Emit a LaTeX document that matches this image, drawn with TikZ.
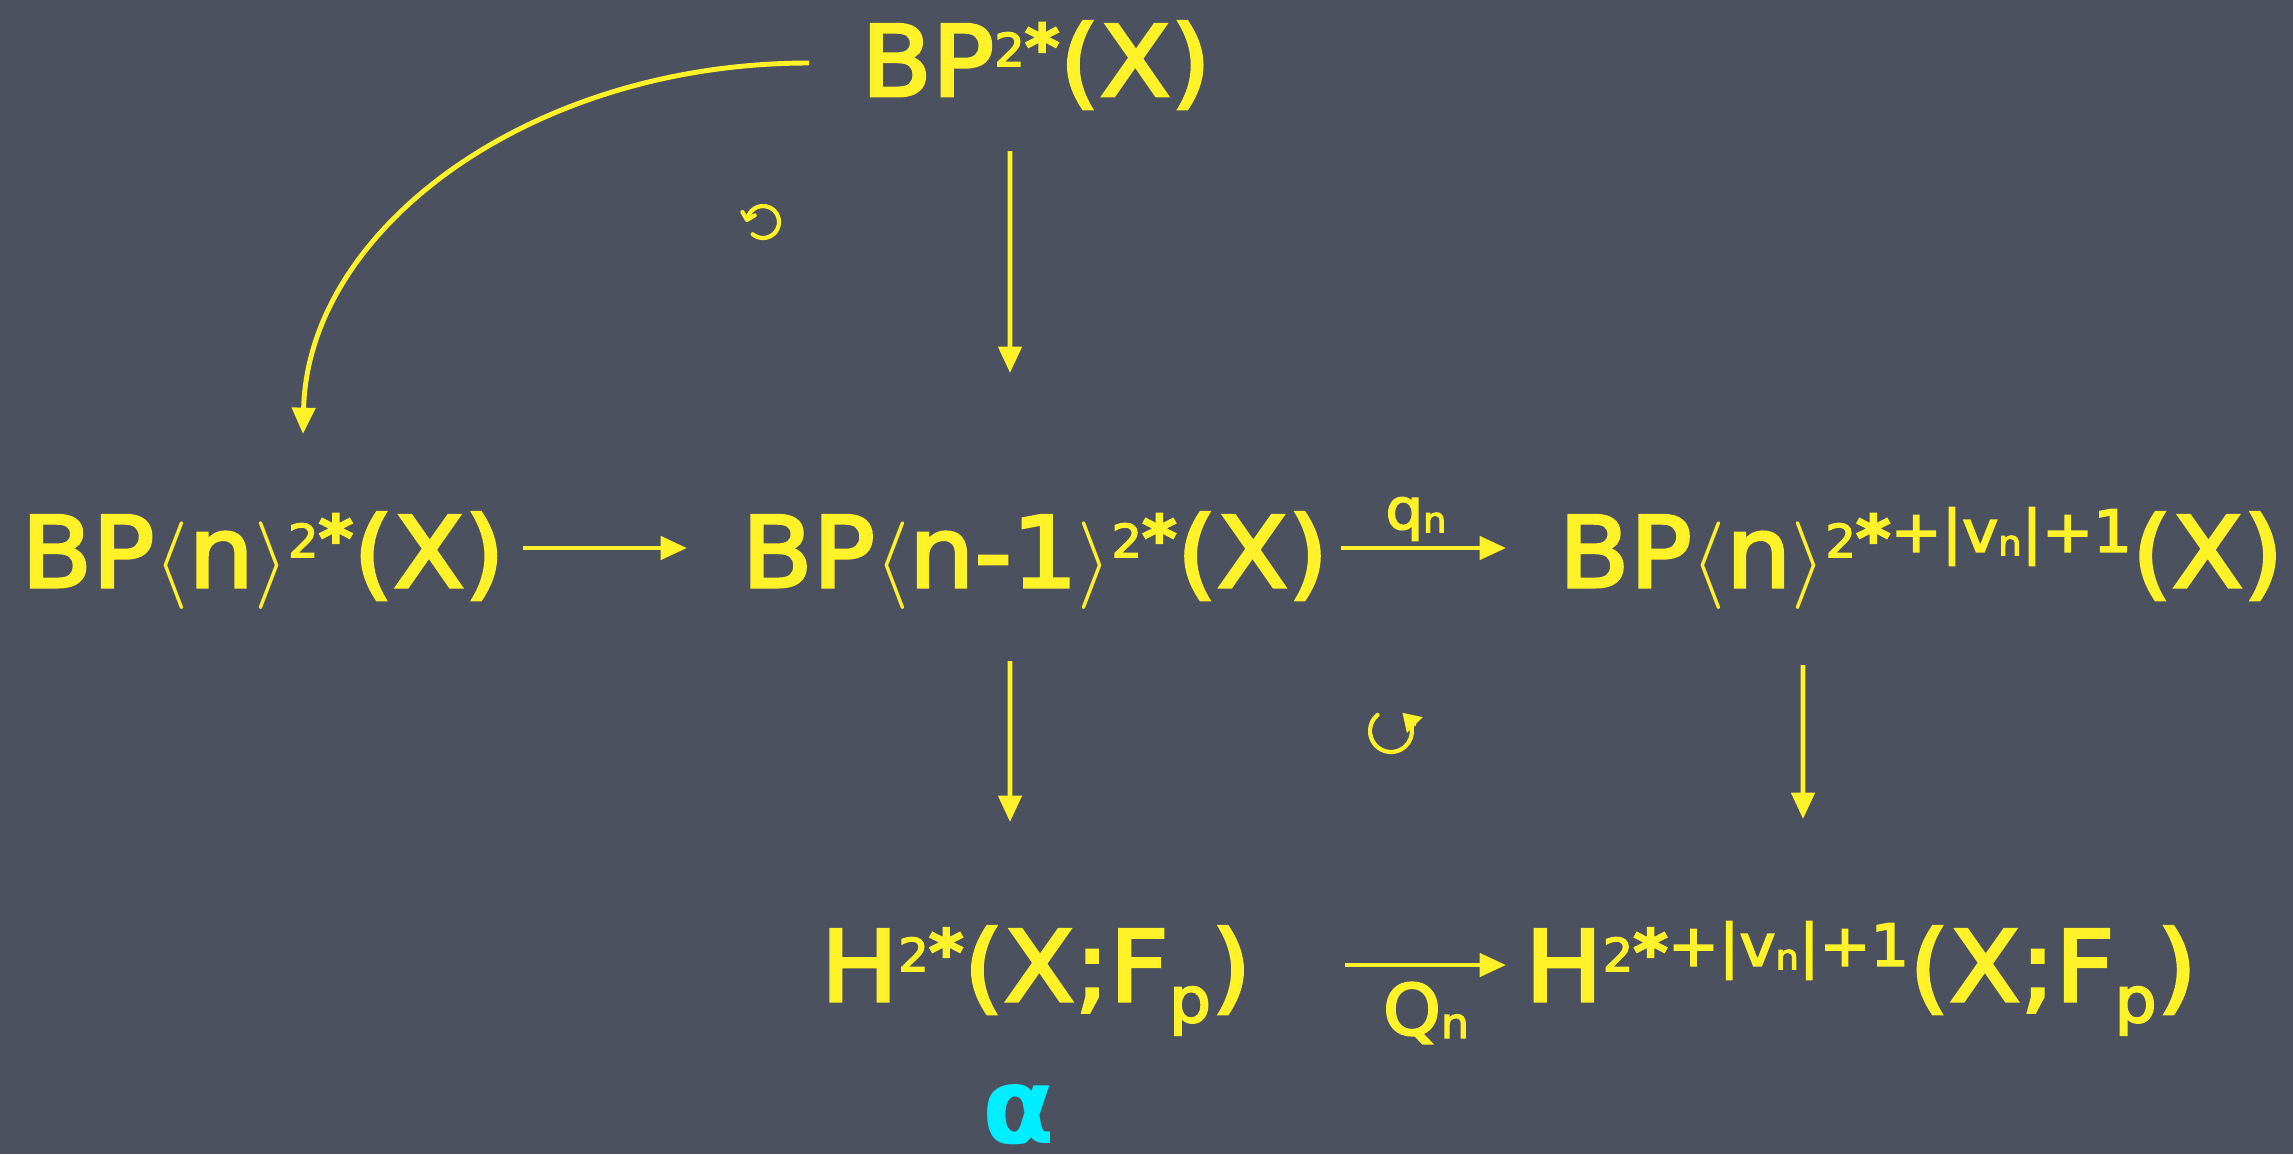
\documentclass[tikz,border=0pt]{standalone}
\usepackage{fontspec}
\setmainfont{DejaVu Sans}[FakeBold=3,FakeStretch=1.05]
\newfontfamily\alphafont{DejaVu Sans}
\usetikzlibrary{arrows.meta,calc}
\definecolor{board}{RGB}{76,81,96}
\definecolor{chalkY}{RGB}{255,242,40}
\definecolor{chalkC}{RGB}{0,238,255}
\newcommand\bigf{\fontsize{28}{30}\selectfont}
\newcommand\supA{\raisebox{8.5pt}{\fontsize{13}{14}\selectfont 2\raisebox{-1pt}{\fontsize{18}{18}\selectfont\bfseries *}}}
\newcommand\supB{\supA\raisebox{10pt}{\fontsize{16.5}{18}\selectfont +|v\raisebox{-1pt}{\fontsize{10}{10}\selectfont n}|+1}}
\newcommand\langl{$\langle$}
\newcommand\rangl{$\rangle$}
\begin{document}
\begin{tikzpicture}[
  txt/.style={text=chalkY, inner sep=0pt, font=\bigf, text height=0.72cm, text depth=0pt, anchor=center},
  lbl/.style={text=chalkY, inner sep=0pt, anchor=center},
  arr/.style={draw=chalkY, line width=1.4pt, -{Triangle[length=7.5pt,width=6.5pt]}},
  circarr/.style={draw=chalkY, line width=1.2pt, line cap=round, line join=round}
]
\fill[board] (0,0) rectangle (22.93,-11.54);
\useasboundingbox (0,0) rectangle (22.93,-11.54);

\node[txt] (top) at (10.36,-0.60) {BP\supA(X)};
\node[txt] (BPn) at (2.63,-5.51) {BP\langl n\rangl\supA(X)};
\node[txt] (mid) at (10.35,-5.51) {BP\langl n-1\rangl\supA(X)};
\node[txt] (BPnv) at (19.21,-5.51) {BP\langl n\rangl\supB(X)};
\node[txt] (Hl) at (10.36,-9.65) {H\supA(X;F\raisebox{-6pt}{\fontsize{18}{18}\selectfont p})};
\node[txt] (Hr) at (18.61,-9.65) {H\supB(X;F\raisebox{-6pt}{\fontsize{18}{18}\selectfont p})};

\node[lbl] (qn) at (14.16,-5.19) {\fontsize{16}{18}\selectfont q\raisebox{-1pt}{\fontsize{10}{10}\selectfont n}};
\node[lbl] (Qn) at (14.26,-10.13) {\fontsize{20}{22}\selectfont Q\raisebox{-1pt}{\fontsize{12}{12}\selectfont n}};
\node[text=chalkC, inner sep=0pt, font=\alphafont\fontsize{30}{32}\selectfont\bfseries] (alpha) at (10.19,-11.15) {α};

% connectors
\draw[arr] ($(top.center)+(-2.27,-0.03)$) .. controls +(-2.79,0) and +(0.05,2.05) .. ($(BPn.center)+(0.40,1.17)$);
\draw[arr] ($(top.center)+(-0.26,-0.91)$) -- ($(mid.center)+(-0.25,1.78)$);
\draw[arr] ($(BPn.center)+(2.60,0.03)$) -- ($(mid.center)+(-3.48,0.03)$);
\draw[arr] ($(mid.center)+(3.06,0.03)$) -- ($(BPnv.center)+(-4.15,0.03)$);
\draw[arr] ($(mid.center)+(-0.25,-1.10)$) -- ($(Hl.center)+(-0.26,1.43)$);
\draw[arr] ($(BPnv.center)+(-1.18,-1.14)$) -- ($(Hr.center)+(-0.58,1.46)$);
\draw[arr] ($(Hl.center)+(3.09,0)$) -- ($(Hr.center)+(-3.55,0)$);

% commutativity symbols
\coordinate (c1) at (7.63,-2.22);
\coordinate (c2) at (13.91,-7.31);
\coordinate (c1e) at ($(c1)+(165:0.16)+(-0.006,-0.02)$);
\draw[circarr] (c1) ++(-130:0.16) arc[start angle=-130, end angle=165, radius=0.16];
\draw[circarr] ($(c1e)+(-0.045,0.078)$) -- (c1e) -- ++(0.078,0.045);
\draw[circarr, -{Triangle[length=5pt,width=6pt]}] (c2) ++(130:0.21) arc[start angle=130, end angle=405, radius=0.21] -- ++(-0.035,0.035);
\end{tikzpicture}
\end{document}
